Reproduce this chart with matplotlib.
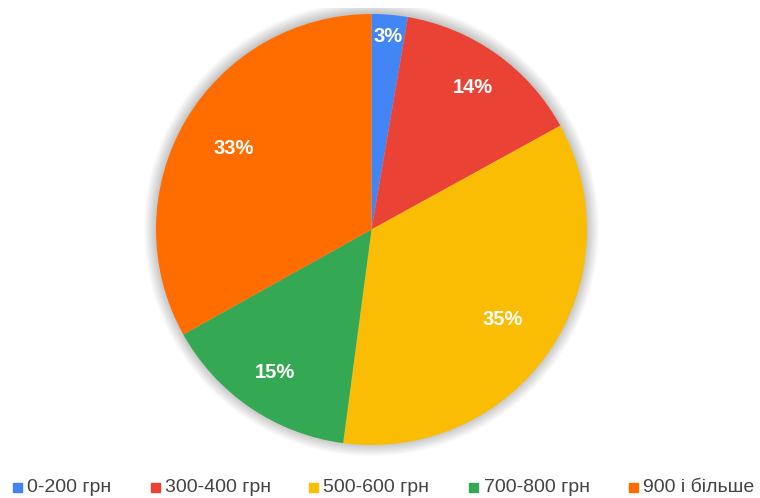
import matplotlib.pyplot as plt
import numpy as np
from matplotlib.patches import Rectangle, Circle

plt.rcParams['font.family'] = ['Liberation Sans', 'DejaVu Sans']

categories = ['0-200 грн', '300-400 грн', '500-600 грн', '700-800 грн', '900 і більше']
values = [2.7, 14.3, 35.1, 14.8, 33.1]
colors = ['#4285F4', '#EA4335', '#FBBC04', '#34A853', '#FF6D01']

W, H = 760, 498
cx, cy, R = 371.5, 229.5, 215.5   # pie centre / radius in pixels

fig = plt.figure(figsize=(W / 100, H / 100), dpi=100)
# axes box in pixels: x 140..603, y 8..460 (top clips the shadow like the original)
ax = fig.add_axes([140 / W, (H - 460) / H, 463 / W, 452 / H])

# soft shadow around the pie
for i in range(12):
    ax.add_patch(Circle((0, 0.004), 1.0 + 0.005 * i, color='black', alpha=0.018,
                        linewidth=0, zorder=0))

wedges, _ = ax.pie(values, colors=colors, startangle=90, counterclock=False,
                   radius=1, wedgeprops=dict(linewidth=0), frame=True)
ax.set_xlim((140 - cx) / R, (603 - cx) / R)
ax.set_ylim(-(460 - cy) / R, (cy - 8) / R)
ax.set_aspect('auto')
ax.axis('off')

# percent labels
total = sum(values)
dists = [0.9, 0.81, 0.74, 0.8, 0.74]
for w, v, d in zip(wedges, values, dists):
    mid = np.deg2rad((w.theta1 + w.theta2) / 2)
    ax.text(d * np.cos(mid), d * np.sin(mid), '%d%%' % round(v / total * 100),
            color='white', fontsize=14.5, fontweight='bold', ha='center', va='center')

# legend along the bottom
xs = [17, 155, 313, 474, 633]
for x, c, lab in zip(xs, colors, categories):
    fig.patches.append(Rectangle(((x - 4.5) / W, (H - 492) / H), 9 / W, 9 / H,
                                 transform=fig.transFigure, color=c))
    fig.text((x + 10) / W, (H - 487) / H, lab, fontsize=14, color='#444444',
             ha='left', va='center')

plt.savefig('out.png', dpi=100)
